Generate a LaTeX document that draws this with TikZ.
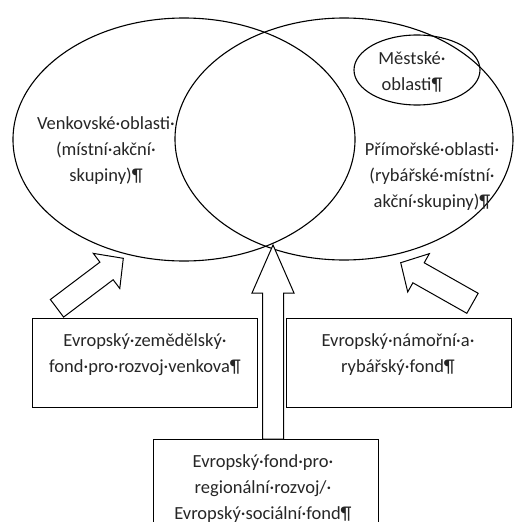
\documentclass[tikz,border=0pt]{standalone}
\usepackage{fontspec}
\setmainfont{Carlito}
\usetikzlibrary{shapes.geometric,calc}
\newcommand\fundarrow[5]{%
  \coordinate (abase) at ($(#2)!#3!(#1)$);
  \draw[blockarr] ($(#1)!#4!90:(#2)$) -- ($(abase)!#4!90:(#2)$) -- ($(abase)!#5!90:(#2)$) -- (#2)
    -- ($(abase)!#5!-90:(#2)$) -- ($(abase)!#4!-90:(#2)$) -- ($(#1)!#4!-90:(#2)$) -- cycle;}
\begin{document}
\begin{tikzpicture}[x=1pt,y=-1pt,
  region/.style={draw, ellipse, line width=1.1pt, inner sep=0pt},
  fundbox/.style={draw, line width=1.1pt, inner sep=0pt, anchor=north west},
  txt/.style={align=center, font=\fontsize{18.5pt}{26pt}\selectfont, inner sep=0pt, text=black!85},
  blockarr/.style={draw, line width=1pt, fill=white, line join=miter}]
\useasboundingbox (0,0) rectangle (514,522);
\clip (0,0) rectangle (514,522);
% regions
\node[region, minimum width=342, minimum height=243] (rural) at (184,139.5) {};
\node[region, minimum width=338, minimum height=242] (coast) at (344,139) {};
\node[region, minimum width=126, minimum height=70] (urban) at (417,70) {};
\node[txt] (ruralt) at (106,151) {Venkovské·oblasti·\\(místní·akční·\\skupiny)¶};
\node[txt] (coastt) at (432,177) {Přímořské·oblasti·\\(rybářské·místní·\\akční·skupiny)¶};
\node[txt] (urbant) at (412,72) {Městské·\\oblasti¶};
% fund boxes
\node[fundbox, minimum width=225, minimum height=89] (eafrd) at (32,318) {};
\node[fundbox, minimum width=225, minimum height=89] (emff) at (286,318) {};
\node[fundbox, minimum width=225, minimum height=110] (erdf) at (153,439) {};
\node[txt] (eafrdt) at (145,355) {Evropský·zemědělský·\\fond·pro·rozvoj·venkova¶};
\node[txt] (emfft) at (398,355) {Evropský·námořní·a·\\rybářský·fond¶};
\node[txt] (erdft) at (263,489) {Evropský·fond·pro·\\regionální·rozvoj/·\\Evropský·sociální·fond¶};
% arrows
\coordinate (a1t) at (57,308.3);
\coordinate (a1h) at (123.3,258.3);
\coordinate (a2t) at (273,439);
\coordinate (a2h) at (273,245);
\coordinate (a3t) at (472.5,303.3);
\coordinate (a3h) at (400.7,262.7);
\fundarrow{a1t}{a1h}{21pt}{11pt}{22pt}
\fundarrow{a2t}{a2h}{48pt}{10.5pt}{21pt}
\fundarrow{a3t}{a3h}{20.5pt}{11.5pt}{22pt}
\end{tikzpicture}
\end{document}
